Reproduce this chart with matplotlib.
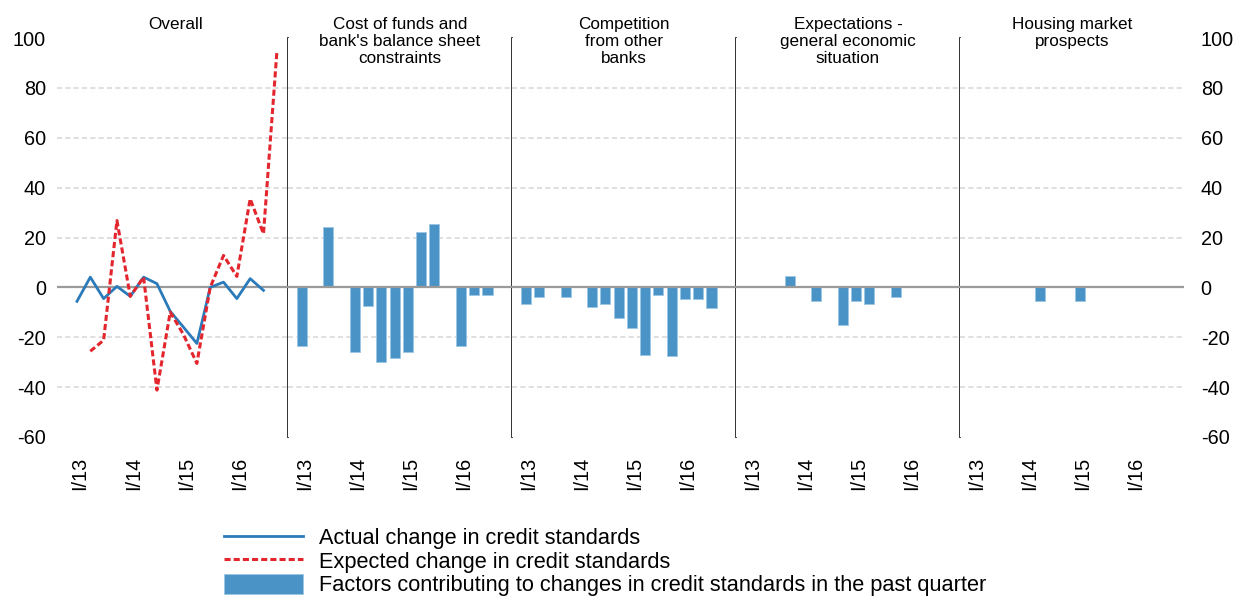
import numpy as np
import matplotlib
matplotlib.use('Agg')
import matplotlib.pyplot as plt
import matplotlib.transforms as mtransforms
from matplotlib.lines import Line2D
from matplotlib.patches import Patch

plt.rcParams['font.family'] = ['Liberation Sans', 'DejaVu Sans']
plt.rcParams['axes.unicode_minus'] = False

quarters = ['I/13', 'II/13', 'III/13', 'IV/13', 'I/14', 'II/14', 'III/14', 'IV/14',
            'I/15', 'II/15', 'III/15', 'IV/15', 'I/16', 'II/16', 'III/16', 'IV/16']
tick_labels = ['I/13', 'I/14', 'I/15', 'I/16']

panel_titles = ['Overall',
                "Cost of funds and\nbank's balance sheet\nconstraints",
                'Competition\nfrom other\nbanks',
                'Expectations -\ngeneral economic\nsituation',
                'Housing market\nprospects']

actual = [-5.6, 4.1, -4.5, 0.4, -3.6, 4.1, 1.5, -9.6, -16.0, -22.5, 0.0, 2.1, -4.5, 3.5, -1.2, None]
expected = [None, -25.6, -21.2, 26.8, -3.6, 4.1, -41.2, -9.9, -19.0, -30.5, 0.0, 12.8, 4.4, 35.5, 21.5, 94.1]

cost_funds = [-23.6, None, 24.1, None, -26.1, -7.6, -30.1, -28.3, -26.1, 22.4, 25.5, None, -23.6, -3.2, -3.2, None]
competition = [-6.6, -3.9, None, -3.9, None, -7.7, -6.8, -12.3, -16.4, -27.0, -3.2, -27.4, -4.7, -4.7, -8.2, None]
expectations = [None, None, None, 4.7, None, -5.6, None, -14.9, -5.6, -6.7, None, -3.9, None, None, None, None]
housing = [None, None, None, None, None, -5.6, None, None, -5.6, None, None, None, None, None, None, None]

factor_series = [cost_funds, competition, expectations, housing]

line_blue = '#2B7BBA'
bar_blue = '#4A93C6'
red = '#E3262E'

fig = plt.figure(figsize=(12.41, 5.97), dpi=100)
gs = fig.add_gridspec(1, 5, width_ratios=[231, 224, 224, 224, 224], wspace=0,
                      left=57 / 1241, right=1184 / 1241, bottom=1 - 437 / 597, top=1 - 38 / 597)
axes = [fig.add_subplot(gs[0, i]) for i in range(5)]

x = np.arange(len(quarters))
shift = mtransforms.ScaledTranslation(3 / 100, 0, fig.dpi_scale_trans)
for i, ax in enumerate(axes):
    ax.set_ylim(-60, 100)
    if i == 0:
        ax.set_xlim(-1.5, 15.84)
    else:
        ax.set_xlim(-1.05, 15.85)
    for g in [-40, -20, 20, 40, 60, 80]:
        ax.axhline(g, color='#d9d9d9', lw=1.2, ls=(0, (3, 2)), zorder=0)
    ax.axhline(0, color='#9a9a9a', lw=1.6, zorder=3)

    for s in ['top', 'bottom', 'left']:
        ax.spines[s].set_visible(False)
    if i < 4:
        ax.spines['right'].set_color('#222222')
        ax.spines['right'].set_linewidth(1.3)
    else:
        ax.spines['right'].set_visible(False)

    ax.set_xticks([quarters.index(t) for t in tick_labels])
    ax.set_xticklabels(tick_labels, rotation=90, fontsize=14.3)
    ax.tick_params(axis='x', length=0, pad=14)
    ax.set_yticks(np.arange(-60, 101, 20))
    if i == 0:
        ax.tick_params(axis='y', length=0, labelsize=14.3, pad=8, labelleft=True, labelright=False)
    elif i == 4:
        ax.tick_params(axis='y', length=0, labelsize=14.3, pad=12, labelleft=False, labelright=True)
    else:
        ax.tick_params(axis='y', length=0, labelleft=False)
    for lab in ax.get_xticklabels():
        lab.set_transform(lab.get_transform() + shift)

    tr = mtransforms.blended_transform_factory(ax.transData, fig.transFigure)
    ax.text(7.4, 1 - 17 / 597, panel_titles[i], transform=tr,
            ha='center', va='top', fontsize=12.3, linespacing=1.17)

ax0 = axes[0]
ax0.plot(x, np.array(actual, dtype=float), color=line_blue, lw=2.0, zorder=4)
ax0.plot(x, np.array(expected, dtype=float), color=red, lw=2.2, ls=(0, (2, 1)), zorder=5)

for ax, vals in zip(axes[1:], factor_series):
    ax.bar(x, np.array(vals, dtype=float), width=0.76, color=bar_blue,
           edgecolor='#9cc6e6', linewidth=0.6, zorder=2)

handles = [Line2D([], [], color=line_blue, lw=2.0),
           Line2D([], [], color=red, lw=2.2, ls=(0, (2, 1))),
           Patch(facecolor=bar_blue, edgecolor='#9cc6e6', linewidth=0.6)]
labels = ['Actual change in credit standards',
          'Expected change in credit standards',
          'Factors contributing to changes in credit standards in the past quarter']
fig.legend(handles, labels, loc='upper left', bbox_to_anchor=(224 / 1241, 1 - 527 / 597),
           frameon=False, fontsize=15.7, handlelength=3.6, handleheight=1.0,
           handletextpad=0.75, labelspacing=0.06, borderpad=0, borderaxespad=0)

fig.savefig('out.png', dpi=100)
